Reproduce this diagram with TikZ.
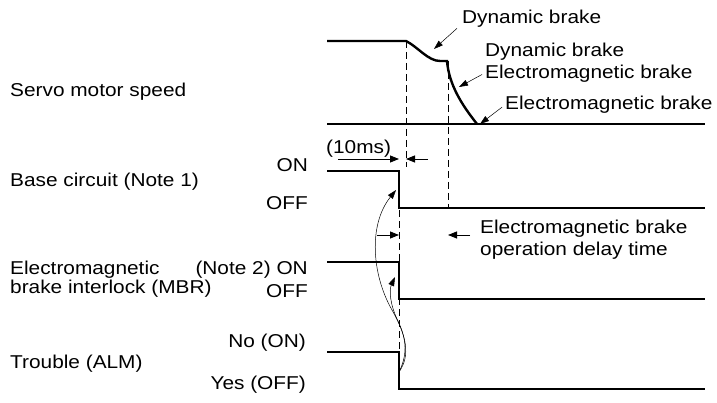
\documentclass[tikz,border=0pt]{standalone}
\usepackage{fontspec}
\setmainfont[FakeStretch=1.12]{Liberation Sans}
\usetikzlibrary{arrows.meta}

\begin{document}
\begin{tikzpicture}[x=1pt, y=-1pt,
  lbl/.style={font=\fontsize{18.6}{21}\selectfont, inner sep=0pt, align=left},
  speed/.style={line width=2.4pt},
  sig/.style={line width=2pt},
  axis/.style={line width=1.3pt},
  guide/.style={line width=0.9pt, dash pattern=on 7pt off 4pt},
  dim/.style={-{Triangle[length=9pt,width=7pt]}, line width=0.8pt},
  pointer/.style={-{Triangle[length=9pt,width=6pt]}, line width=0.5pt}
]
\useasboundingbox (0,0) rectangle (717,403);

% Left labels
\node[lbl, anchor=base west] (spdlbl) at (10,96.7) {Servo motor speed};
\node[lbl, anchor=base west] (baselbl) at (10,187) {Base circuit (Note 1)};
\node[lbl, anchor=base west] (mbrlbl) at (10,274) {Electromagnetic};
\node[lbl, anchor=base west] (mbrlbl2) at (10,293.5) {brake interlock (MBR)};
\node[lbl, anchor=base west] (almlbl) at (10,368) {Trouble (ALM)};

% Levels
\node[lbl, anchor=base east] (baseon) at (308,172) {ON};
\node[lbl, anchor=base east] (baseoff) at (308,210) {OFF};
\node[lbl, anchor=base east] (mbron) at (308,274) {(Note 2) ON};
\node[lbl, anchor=base east] (mbroff) at (308,298) {OFF};
\node[lbl, anchor=base east] (almon) at (306,347) {No (ON)};
\node[lbl, anchor=base east] (almoff) at (306,389) {Yes (OFF)};

% Speed
\draw[axis] (327,124) -- (705,124);
\draw[speed] (327,124) -- (477,124);
\draw[speed] (327,41) -- (406,41)
  .. controls (418,47) and (428,61) .. (440,61) -- (447,61)
  .. controls (449,85) and (462,105) .. (477,124);

% Signals
\draw[sig] (327,171) -- (399,171) -- (399,208) -- (705,208);
\draw[sig] (327,262) -- (399,262) -- (399,299) -- (705,299);
\draw[sig] (327,352) -- (399,352) -- (399,389) -- (705,389);

% Dashed guides
\draw[guide] (406,41) -- (406,167);
\draw[guide] (448,61) -- (448,208);
\draw[guide] (399,210) -- (399,352);

% Brake notes
\node[lbl, anchor=base west] (db1) at (462,23.3) {Dynamic brake};
\node[lbl, anchor=base west] (db2) at (485,56.7) {Dynamic brake};
\node[lbl, anchor=base west] (em1) at (485,78.3) {Electromagnetic brake};
\node[lbl, anchor=base west] (em2) at (505,110) {Electromagnetic brake};
\coordinate (db1tip) at (434,49);
\coordinate (em1tip) at (459,87);
\coordinate (em2tip) at (480,124);
\draw[pointer] ([xshift=-5pt,yshift=-1pt]db1.south west) -- (db1tip);
\draw[pointer] ([xshift=-3pt,yshift=-1pt]em1.west) -- (em1tip);
\draw[pointer] ([xshift=-3pt,yshift=-2pt]em2.west) -- (em2tip);

% 10ms
\node[lbl, anchor=base west] (tenms) at (326,153.3) {(10ms)};
\coordinate (t1) at (399,159);
\coordinate (t1s) at (338,159);
\coordinate (t2) at (406,159);
\coordinate (t2s) at (428,159);
\draw[dim] (t1s) -- (t1);
\draw[dim] (t2s) -- (t2);

% Delay time
\node[lbl, anchor=base west] (delay) at (480,233.3) {Electromagnetic brake};
\node[lbl, anchor=base west] (delay2) at (480,255) {operation delay time};
\coordinate (d1) at (399,235);
\coordinate (d1s) at (377,235);
\coordinate (d2) at (448,235);
\coordinate (d2s) at (470,235);
\draw[dim] (d1s) -- (d1);
\draw[dim] (d2s) -- (d2);

% Trouble -> base circuit, MBR
\coordinate (alm) at (399,372);
\coordinate (basetip) at (396,190);
\coordinate (mbrtip) at (395,277);
\draw[pointer] (alm) .. controls (411,355) and (406,335) .. (392,310)
  .. controls (372,275) and (368,225) .. (basetip);
\draw[pointer] (alm) .. controls (409,352) and (405,336) .. (398,321)
  .. controls (390,305) and (389,290) .. (mbrtip);
\end{tikzpicture}
\end{document}
